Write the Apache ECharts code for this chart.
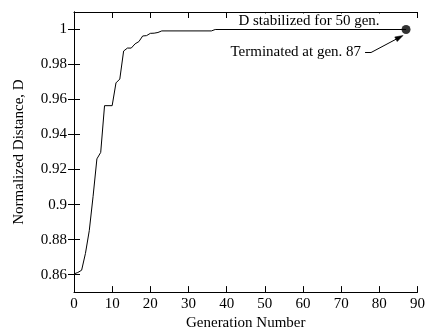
<!DOCTYPE html>
<html><head><meta charset="utf-8">
<script src="https://cdn.jsdelivr.net/npm/echarts@6/dist/echarts.min.js"></script>
<style>html,body{margin:0;padding:0;background:#fff}#c{width:428px;height:336px}</style>
</head><body><div id="c"></div>
<script>
// Breakpoints of the curve (generation, normalized distance D)
const generations = [0, 1, 2, 3, 4, 5, 6, 7, 8, 10, 11, 12, 13, 14, 15, 16, 17, 18, 19, 20, 21, 22, 23, 36, 37, 87];
const distances   = [0.8604, 0.8612, 0.8625, 0.8721, 0.8851, 0.9047, 0.9261, 0.9298, 0.9565, 0.9565, 0.9695, 0.9717, 0.9877, 0.9894, 0.9894, 0.9918, 0.9931, 0.9963, 0.9965, 0.9978, 0.9979, 0.9983, 0.9992, 0.9992, 1.0, 1.0];
const yTickValues = [0.86, 0.88, 0.9, 0.92, 0.94, 0.96, 0.98, 1];
const endGeneration = 87;
const endDistance = 1.0;
const noteTop = 'D stabilized for 50 gen.';
const noteEnd = 'Terminated at gen. 87';
const xTitle = 'Generation Number';
const yTitle = 'Normalized Distance, D';

const FONT = "'Liberation Serif', 'Times New Roman', serif";
const FS = 15;
const chart = echarts.init(document.getElementById('c'), null, {renderer: 'canvas'});
const lineData = generations.map((g, i) => [g, distances[i]]);
const axisCommon = {
  axisLine: {show: true, lineStyle: {color: '#000', width: 1}},
  splitLine: {show: false}
};
const option = {
  animation: false,
  backgroundColor: '#fff',
  grid: {left: 74, right: 9, top: 12, bottom: 38, containLabel: false},
  xAxis: [
    Object.assign({
      type: 'value', min: 0, max: 90, interval: 10, position: 'bottom',
      axisTick: {show: true, inside: true, length: 6, lineStyle: {color: '#000'}},
      axisLabel: {show: true, color: '#000', fontFamily: FONT, fontSize: FS, margin: 4},
      name: xTitle, nameLocation: 'middle', nameGap: 23,
      nameTextStyle: {color: '#000', fontFamily: FONT, fontSize: FS}
    }, axisCommon),
    Object.assign({
      type: 'value', min: 0, max: 90, interval: 10, position: 'top',
      axisTick: {show: true, inside: true, length: 6, lineStyle: {color: '#000'}},
      axisLabel: {show: false}
    }, axisCommon)
  ],
  yAxis: [
    Object.assign({
      type: 'value', min: 0.85, max: 1.01, position: 'left',
      axisTick: {show: true, inside: true, length: 6, customValues: yTickValues, lineStyle: {color: '#000'}},
      axisLabel: {show: true, customValues: yTickValues, color: '#000', fontFamily: FONT, fontSize: FS, margin: 7,
        formatter: v => String(v)},
      name: yTitle, nameLocation: 'middle', nameGap: 47, nameRotate: 90,
      nameTextStyle: {color: '#000', fontFamily: FONT, fontSize: FS}
    }, axisCommon),
    Object.assign({
      type: 'value', min: 0.85, max: 1.01, position: 'right',
      axisTick: {show: true, inside: true, length: 6, customValues: yTickValues, lineStyle: {color: '#000'}},
      axisLabel: {show: false}
    }, axisCommon)
  ],
  series: [
    {type: 'line', data: lineData, showSymbol: false, symbol: 'none',
      lineStyle: {color: '#000', width: 1}, z: 3},
    {type: 'scatter', data: [[endGeneration, endDistance]], symbol: 'circle', symbolSize: 9,
      itemStyle: {color: '#000'}, z: 5}
  ]
};
chart.setOption(option);

const p = chart.convertToPixel({gridIndex: 0}, [endGeneration, endDistance]);
const tip = [p[0] - 3, p[1] + 6];
const start = [p[0] - 41, p[1] + 23];
const bend = [p[0] - 35, p[1] + 23];
const dx = tip[0] - bend[0], dy = tip[1] - bend[1];
const len = Math.hypot(dx, dy), ux = dx / len, uy = dy / len;
const hl = 8, hw = 2.6;
const base = [tip[0] - ux * hl, tip[1] - uy * hl];
const head = [tip, [base[0] - uy * hw, base[1] + ux * hw], [base[0] + uy * hw, base[1] - ux * hw]];
chart.setOption({
  graphic: [
    {type: 'text', x: 309, y: 21, z: 10,
      style: {text: noteTop, fill: '#000', font: FS + 'px ' + FONT, textAlign: 'center', textVerticalAlign: 'middle',
        backgroundColor: '#fff', padding: [0, 2]}},
    {type: 'text', x: start[0] - 4, y: start[1], z: 10,
      style: {text: noteEnd, fill: '#000', font: FS + 'px ' + FONT, textAlign: 'right', textVerticalAlign: 'middle'}},
    {type: 'polyline', z: 10, shape: {points: [start, bend, base]}, style: {stroke: '#000', lineWidth: 1, fill: null}},
    {type: 'polygon', z: 10, shape: {points: head}, style: {fill: '#000', stroke: '#000', lineWidth: 0.5}}
  ]
});
</script>
</body></html>
